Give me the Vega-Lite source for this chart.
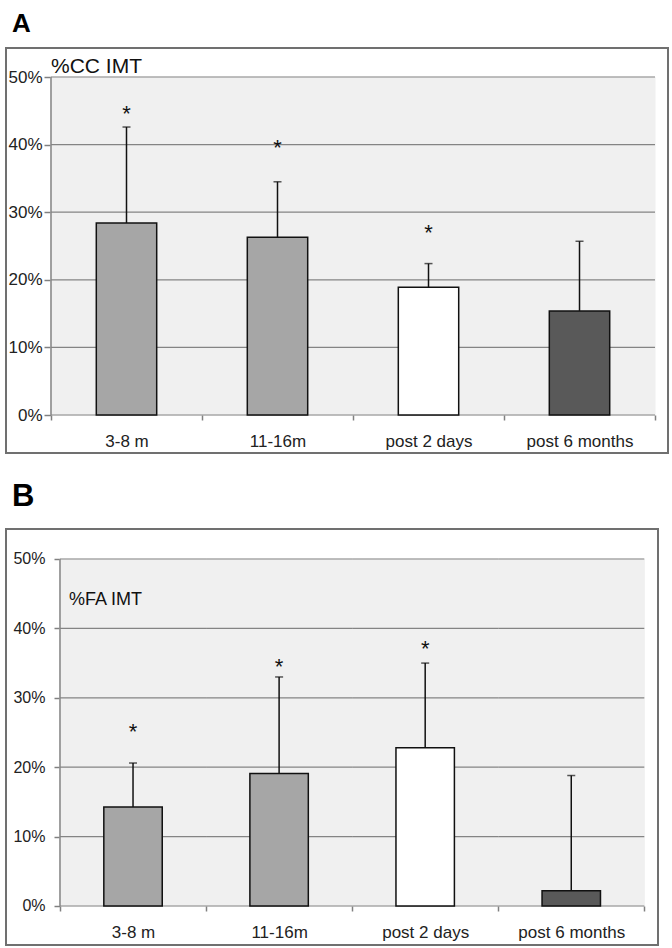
{
  "$schema": "https://vega.github.io/schema/vega-lite/v6.json",
  "padding": {"top": 10, "left": 5, "right": 0, "bottom": 0},
  "background": "#ffffff",
  "spacing": 26,
  "config": {
    "font": "Liberation Sans",
    "view": {"stroke": "#707070", "strokeWidth": 2},
    "title": {"anchor": "start", "fontWeight": "bold", "color": "#000000", "font": "Liberation Sans", "dx": 6}
  },
  "datasets": {
    "A": [
      {"cat": "3-8 m", "mean": 28.4, "upper": 42.6, "star": 45.4, "sig": "*"},
      {"cat": "11-16m", "mean": 26.3, "upper": 34.5, "star": 40.4, "sig": "*"},
      {"cat": "post 2 days", "mean": 18.9, "upper": 22.4, "star": 27.8, "sig": "*"},
      {"cat": "post 6 months", "mean": 15.4, "upper": 25.7, "star": null, "sig": ""}
    ],
    "B": [
      {"cat": "3-8 m", "mean": 14.25, "upper": 20.6, "star": 26.0, "sig": "*"},
      {"cat": "11-16m", "mean": 19.1, "upper": 33.0, "star": 35.3, "sig": "*"},
      {"cat": "post 2 days", "mean": 22.8, "upper": 35.0, "star": 37.9, "sig": "*"},
      {"cat": "post 6 months", "mean": 2.2, "upper": 18.8, "star": null, "sig": ""}
    ],
    "grid": [
      {"cat": "3-8 m", "v": 0}, {"cat": "3-8 m", "v": 10}, {"cat": "3-8 m", "v": 20}, {"cat": "3-8 m", "v": 30}, {"cat": "3-8 m", "v": 40}, {"cat": "3-8 m", "v": 50},
      {"cat": "11-16m", "v": 0}, {"cat": "11-16m", "v": 10}, {"cat": "11-16m", "v": 20}, {"cat": "11-16m", "v": 30}, {"cat": "11-16m", "v": 40}, {"cat": "11-16m", "v": 50},
      {"cat": "post 2 days", "v": 0}, {"cat": "post 2 days", "v": 10}, {"cat": "post 2 days", "v": 20}, {"cat": "post 2 days", "v": 30}, {"cat": "post 2 days", "v": 40}, {"cat": "post 2 days", "v": 50},
      {"cat": "post 6 months", "v": 0}, {"cat": "post 6 months", "v": 10}, {"cat": "post 6 months", "v": 20}, {"cat": "post 6 months", "v": 30}, {"cat": "post 6 months", "v": 40}, {"cat": "post 6 months", "v": 50}
    ]
  },
  "vconcat": [
    {
      "width": 662,
      "height": 405,
      "title": {"text": "A", "fontSize": 26, "offset": 11},
      "data": {"name": "A"},
      "encoding": {
        "x": {
          "field": "cat", "type": "nominal", "sort": null, "title": null,
          "scale": {"type": "band", "domain": ["3-8 m", "11-16m", "post 2 days", "post 6 months"], "paddingInner": 0, "paddingOuter": 0.192, "align": 0.776},
          "axis": {"title": null, "orient": "bottom", "offset": -38, "domain": false, "grid": false, "tickBand": "extent", "tickSize": 5, "tickColor": "#808080", "tickWidth": 1.5, "labelPadding": 13, "labelFontSize": 17, "labelColor": "#222222", "labelAngle": 0, "labelFont": "Liberation Sans"}
        }
      },
      "layer": [
        {
          "mark": {"type": "rect", "fill": "#f0f0f0", "stroke": "#f0f0f0", "strokeWidth": 1},
          "encoding": {
            "y": {"datum": 0, "type": "quantitative", "title": null,
              "scale": {"domain": [-5.62, 54.29], "nice": false, "zero": false},
              "axis": {"title": null, "offset": -45, "domain": false, "grid": false, "values": [0, 10, 20, 30, 40, 50], "labelExpr": "datum.value + '%'", "tickSize": 7, "tickColor": "#808080", "tickWidth": 1.5, "labelPadding": 2, "labelFontSize": 17, "labelColor": "#222222", "labelFont": "Liberation Sans"}
            },
            "y2": {"datum": 50}
          }
        },
        {
          "data": {"name": "grid"},
          "mark": {"type": "rect", "stroke": "#848484", "strokeWidth": 1.2, "fill": null},
          "encoding": {"y": {"field": "v", "type": "quantitative", "title": null}, "y2": {"field": "v"}}
        },
        {
          "transform": [{"filter": "datum.cat === '3-8 m'"}],
          "mark": {"type": "rule", "color": "#848484", "strokeWidth": 1.5},
          "encoding": {"x": {"field": "cat", "type": "nominal", "bandPosition": 0, "title": null}, "y": {"datum": 0, "title": null}, "y2": {"datum": 50}}
        },
        {
          "mark": {"type": "bar", "stroke": "#111111", "strokeWidth": 1.5, "width": {"band": 0.4}},
          "encoding": {
            "y": {"field": "mean", "type": "quantitative", "title": null},
            "fill": {"field": "cat", "type": "nominal", "legend": null, "scale": {"domain": ["3-8 m", "11-16m", "post 2 days", "post 6 months"], "range": ["#a6a6a6", "#a6a6a6", "#ffffff", "#595959"]}}
          }
        },
        {
          "mark": {"type": "rule", "color": "#111111", "strokeWidth": 1.5},
          "encoding": {"y": {"field": "mean", "type": "quantitative", "title": null}, "y2": {"field": "upper"}}
        },
        {
          "mark": {"type": "tick", "color": "#111111", "size": 8, "thickness": 1.5},
          "encoding": {"y": {"field": "upper", "type": "quantitative", "title": null}}
        },
        {
          "transform": [{"filter": "datum.star != null"}],
          "mark": {"type": "text", "fontSize": 22, "baseline": "middle", "dy": 6, "color": "#111111"},
          "encoding": {"y": {"field": "star", "type": "quantitative", "title": null}, "text": {"field": "sig"}}
        },
        {
          "transform": [{"filter": "datum.cat === '3-8 m'"}],
          "mark": {"type": "text", "fontSize": 21, "align": "left", "baseline": "alphabetic", "color": "#111111", "text": "%CC IMT"},
          "encoding": {"x": {"field": "cat", "type": "nominal", "bandPosition": 0, "title": null}, "y": {"datum": 50.6, "title": null}}
        }
      ]
    },
    {
      "width": 652,
      "height": 416,
      "title": {"text": "B", "fontSize": 31, "offset": 16},
      "data": {"name": "B"},
      "encoding": {
        "x": {
          "field": "cat", "type": "nominal", "sort": null, "title": null,
          "scale": {"type": "band", "domain": ["3-8 m", "11-16m", "post 2 days", "post 6 months"], "paddingInner": 0, "paddingOuter": 0.2317, "align": 0.7976},
          "axis": {"title": null, "orient": "bottom", "offset": -39, "domain": false, "grid": false, "tickBand": "extent", "tickSize": 5, "tickColor": "#808080", "tickWidth": 1.5, "labelPadding": 13, "labelFontSize": 17, "labelColor": "#222222", "labelAngle": 0, "labelFont": "Liberation Sans"}
        }
      },
      "layer": [
        {
          "mark": {"type": "rect", "fill": "#f0f0f0", "stroke": "#f0f0f0", "strokeWidth": 1},
          "encoding": {
            "y": {"datum": 0, "type": "quantitative", "title": null,
              "scale": {"domain": [-5.62, 54.32], "nice": false, "zero": false},
              "axis": {"title": null, "offset": -54, "domain": false, "grid": false, "values": [0, 10, 20, 30, 40, 50], "labelExpr": "datum.value + '%'", "tickSize": 6, "tickColor": "#808080", "tickWidth": 1.5, "labelPadding": 9, "labelFontSize": 16, "labelColor": "#222222", "labelFont": "Liberation Sans"}
            },
            "y2": {"datum": 50}
          }
        },
        {
          "data": {"name": "grid"},
          "mark": {"type": "rect", "stroke": "#848484", "strokeWidth": 1.2, "fill": null},
          "encoding": {"y": {"field": "v", "type": "quantitative", "title": null}, "y2": {"field": "v"}}
        },
        {
          "transform": [{"filter": "datum.cat === '3-8 m'"}],
          "mark": {"type": "rule", "color": "#848484", "strokeWidth": 1.5},
          "encoding": {"x": {"field": "cat", "type": "nominal", "bandPosition": 0, "title": null}, "y": {"datum": 0, "title": null}, "y2": {"datum": 50}}
        },
        {
          "mark": {"type": "bar", "stroke": "#111111", "strokeWidth": 1.5, "width": {"band": 0.4}},
          "encoding": {
            "y": {"field": "mean", "type": "quantitative", "title": null},
            "fill": {"field": "cat", "type": "nominal", "legend": null, "scale": {"domain": ["3-8 m", "11-16m", "post 2 days", "post 6 months"], "range": ["#a6a6a6", "#a6a6a6", "#ffffff", "#595959"]}}
          }
        },
        {
          "mark": {"type": "rule", "color": "#111111", "strokeWidth": 1.5},
          "encoding": {"y": {"field": "mean", "type": "quantitative", "title": null}, "y2": {"field": "upper"}}
        },
        {
          "mark": {"type": "tick", "color": "#111111", "size": 8, "thickness": 1.5},
          "encoding": {"y": {"field": "upper", "type": "quantitative", "title": null}}
        },
        {
          "transform": [{"filter": "datum.star != null"}],
          "mark": {"type": "text", "fontSize": 22, "baseline": "middle", "dy": 6, "color": "#111111"},
          "encoding": {"y": {"field": "star", "type": "quantitative", "title": null}, "text": {"field": "sig"}}
        },
        {
          "transform": [{"filter": "datum.cat === '3-8 m'"}],
          "mark": {"type": "text", "fontSize": 18, "align": "left", "baseline": "alphabetic", "dx": 9, "color": "#111111", "text": "%FA IMT"},
          "encoding": {"x": {"field": "cat", "type": "nominal", "bandPosition": 0, "title": null}, "y": {"datum": 43.3, "title": null}}
        }
      ]
    }
  ]
}
